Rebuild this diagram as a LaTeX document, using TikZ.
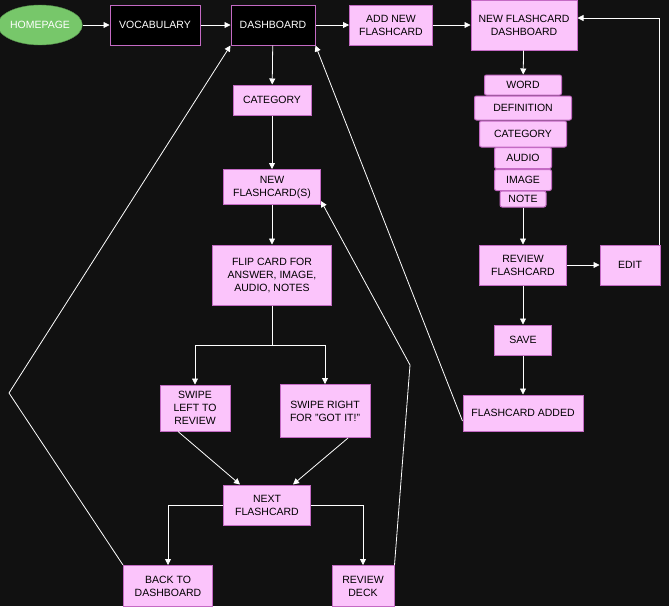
\documentclass[tikz,border=0pt]{standalone}
\usepackage{fontspec}
\setmainfont{Liberation Sans}
\usetikzlibrary{arrows.meta,shapes.geometric}
\definecolor{bg}{HTML}{111111}
\definecolor{pk}{HTML}{FBC4FB}
\definecolor{pkb}{HTML}{C46AC4}
\definecolor{gr}{HTML}{77C76A}
\begin{document}
\begin{tikzpicture}[x=1pt,y=-1pt,
  bx/.style={draw=pkb,fill=pk,line width=1pt,inner sep=0pt,align=center,font=\fontsize{10.5}{13}\selectfont,text=black},
  dk/.style={draw=pkb,fill=black,line width=1pt,inner sep=0pt,align=center,font=\fontsize{10.5}{13}\selectfont,text=white},
  ln/.style={draw=white,line width=0.8pt},
  ar/.style={ln,-{Triangle[width=6pt,length=6pt]}}]
\fill[bg] (0,0) rectangle (669,606);
\useasboundingbox (0,0) rectangle (669,606);
\node[ellipse,draw=gr!70!black,fill=gr,text=white,minimum width=80,minimum height=40,inner sep=0pt,font=\fontsize{10.5}{13}\selectfont] (home) at (40,25) {HOMEPAGE};
\node[dk,minimum width=90,minimum height=40] (voc) at (155,25) {VOCABULARY};
\node[dk,minimum width=84,minimum height=40] (dash) at (273,25) {DASHBOARD};
\node[bx,minimum width=83,minimum height=40] (add) at (391,25) {ADD NEW\\FLASHCARD};
\node[bx,minimum width=106,minimum height=50] (nfd) at (524,25) {NEW FLASHCARD\\DASHBOARD};
\node[bx,rounded corners=2pt,minimum width=77,minimum height=20] (word) at (523,85) {WORD};
\node[bx,rounded corners=2pt,minimum width=97,minimum height=24] (def) at (523,108) {DEFINITION};
\node[bx,rounded corners=2pt,minimum width=87,minimum height=26] (cat2) at (523,134) {CATEGORY};
\node[bx,rounded corners=2pt,minimum width=57,minimum height=21] (aud) at (523,158) {AUDIO};
\node[bx,rounded corners=2pt,minimum width=57,minimum height=21] (img) at (523,180) {IMAGE};
\node[bx,rounded corners=2pt,minimum width=46,minimum height=16] (note) at (523,199) {NOTE};
\node[bx,minimum width=87,minimum height=40] (rev) at (523,265) {REVIEW\\FLASHCARD};
\node[bx,minimum width=60,minimum height=40] (edit) at (630,265) {EDIT};
\node[bx,minimum width=57,minimum height=30] (save) at (523,340) {SAVE};
\node[bx,minimum width=120,minimum height=36] (added) at (523,413) {FLASHCARD ADDED};
\node[bx,minimum width=78,minimum height=30] (cat) at (272,100) {CATEGORY};
\node[bx,minimum width=97,minimum height=35] (nfs) at (272,187) {NEW\\FLASHCARD(S)};
\node[bx,minimum width=119,minimum height=60] (flip) at (272,275) {FLIP CARD FOR\\ANSWER, IMAGE,\\AUDIO, NOTES};
\node[bx,minimum width=70,minimum height=46] (left) at (195,408) {SWIPE\\LEFT TO\\REVIEW};
\node[bx,minimum width=90,minimum height=53] (right) at (325,411) {SWIPE RIGHT\\FOR "GOT IT!"};
\node[bx,minimum width=87,minimum height=40] (next) at (267,505) {NEXT\\FLASHCARD};
\node[bx,minimum width=89,minimum height=41] (back) at (168,586) {BACK TO\\DASHBOARD};
\node[bx,minimum width=62,minimum height=41] (deck) at (363,586) {REVIEW\\DECK};
\coordinate (k1) at (9,393);
\coordinate (k2) at (410,365);
\draw[ar] (home) -- (voc);
\draw[ar] (voc) -- (dash);
\draw[ar] (dash) -- (add);
\draw[ar] (add) -- (nfd);
\draw[ar] (nfd) -- (word);
\draw[ar] (note) -- (rev);
\draw[ar] (rev) -- (edit);
\draw[ar] (rev) -- (save);
\draw[ar] (save) -- (added);
\draw[ar] (edit.north east) ++(-1,0) |- ([yshift=7]nfd.east);
\draw[ar] (dash) -- (cat);
\draw[ar] (cat) -- (nfs);
\draw[ar] (nfs) -- (flip);
\draw[ar] (flip.south) -- ++(0,40) -| (left.north);
\draw[ar] (flip.south) -- ++(0,40) -| (right.north);
\draw[ar] ([xshift=-17]left.south) -- ([xshift=-27]next.north);
\draw[ar] ([xshift=23]right.south) -- ([xshift=26]next.north);
\draw[ar] (next.west) -| (back.north);
\draw[ar] (next.east) -| (deck.north);
\draw[ar] (back.north west) -- (k1) -- (dash.south west);
\draw[ar] (deck.north east) -- (k2) -- ([yshift=-14]nfs.east);
\draw[ar] ([yshift=-8]added.west) -- (dash.south east);
\end{tikzpicture}
\end{document}
